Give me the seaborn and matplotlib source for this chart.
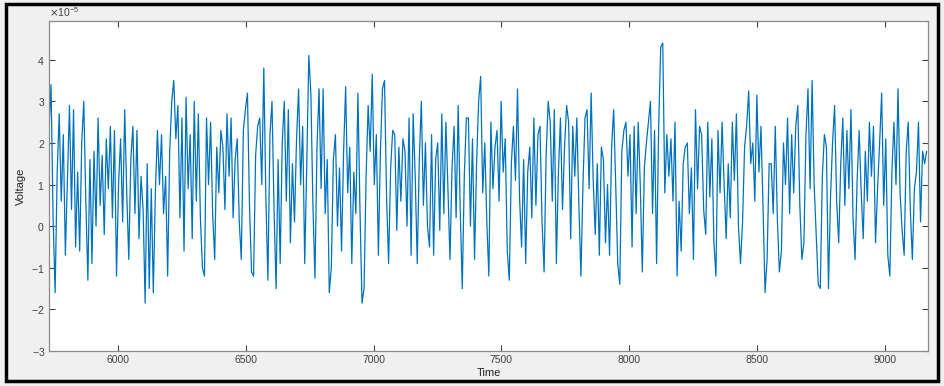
import numpy as np
import pandas as pd
import matplotlib
matplotlib.use("Agg")
import matplotlib.pyplot as plt
from matplotlib.patches import Rectangle
from matplotlib.ticker import ScalarFormatter
import seaborn as sns

# ---- data (voltage in units of 1e-5, sampled every 8 time units from t=5731) ----
t_start = 5731
t_step = 8
v_part1 = [2.3, 3.4, 0.2, -1.6, 1.3, 2.7, 0.6, 2.2, -0.7, 1.1, 2.9, 0.4, 2.8, -0.5, 1.3, -0.6, 2.0, 3.0, 0.6, -1.3,
           1.6, -0.9, 1.8, 0.0, 2.6, 0.5, 1.7, -0.2, 2.1, 0.9, 2.4, 0.2, 2.3, -1.2, 1.0, 2.1, 0.1, 2.8, 0.8, -0.8,
           1.6, 2.4, 0.3, 2.3, -0.3, 1.2, 0.4, -1.85, 1.5, -1.5, 0.9, -1.6, 0.8, 2.3, 1.0, 2.2, 0.3, 1.2, -1.2, 1.8,
           3.0, 3.5, 2.1, 2.9, 0.2, 2.6, -0.6, 3.1, 0.9, 2.2, -0.3, 3.0, 0.6, 2.7, 0.2, -1.0, -1.2, 2.6, 1.0, 2.5,
           0.3, -0.8, 1.9, 0.8, 2.3, 1.9]
v_part2 = [0.4, 2.7, 1.2, 2.6, 0.2, 1.6, 2.1, 0.1, -0.8, 2.3, 2.8, 3.2, 0.5, -1.1, -1.2, 1.7, 2.4, 2.6, 1.0, 3.8,
           0.7, -1.3, 2.2, 3.0, 0.4, -1.5, 1.6, -0.9, 2.0, 3.0, 0.6, 2.8, -0.4, 1.5, 0.1, 2.1, 3.3, 1.0, 2.4, -0.9,
           1.5, 4.1, 3.2, 0.5, -1.25, 1.9, 3.3, 0.9, 3.3, 0.3, 1.6, -1.6, -1.0, 1.6, 2.2, 0.0, 1.4, -0.6, 1.8, 3.35,
           0.8, 1.9, -0.9, 1.3, 0.3, 3.2, 0.4, -1.85, -1.5, 1.2, 2.9, 1.8, 3.65, 1.0, 2.2, -0.7, 1.8, 3.3, 3.5, 0.7,
           -0.9, 1.4, 2.3, 2.2, -0.1, 1.9]
v_part3 = [0.6, 2.1, 1.8, 0.0, 2.6, -0.7, 2.7, 1.2, -0.9, 1.6, 3.0, 0.5, 2.0, 0.0, -0.5, 2.2, -0.7, 1.6, 2.0, -0.1,
           2.7, 0.3, 2.5, 0.9, -0.8, 1.4, 2.4, 0.2, 2.9, 0.4, -1.5, 1.2, 2.6, 2.6, 0.0, 2.1, -0.8, 1.5, 3.0, 3.6,
           0.8, 2.0, 0.1, -1.2, 2.5, 0.9, 1.9, 2.3, 0.6, 3.0, 1.3, 2.1, -0.6, -1.3, 1.5, 2.4, 1.1, 3.3, 0.7, -0.5,
           1.6, -0.9, 1.3, 1.9, 0.2, 2.6, 0.5, 2.2, 2.4, 0.1, -1.1, 1.7, 3.0, 2.5, 0.6, 2.8, -0.9, 1.3, 2.6, 0.4,
           1.9, 2.9, 2.5, -0.3, 2.4, 1.2]
v_part4 = [2.6, 0.5, -1.2, 1.0, 2.6, 2.8, 0.9, 3.2, 1.1, -0.2, 1.5, -0.7, 1.9, 1.6, -0.4, 1.0, -0.7, 1.9, 2.8, 1.0,
           -0.9, -1.4, 1.8, 2.3, 2.5, 1.2, 2.2, -0.5, 2.4, 0.3, 2.5, 1.0, -1.1, 1.4, 2.0, 2.5, 3.0, 0.3, 2.3, -0.9,
           2.4, 4.3, 4.4, 0.8, 2.2, 1.2, 2.1, 0.6, 2.5, -1.2, 0.6, -0.6, 1.5, 1.9, 2.0, 0.3, 1.4, -0.8, 2.8, 0.9,
           2.4, 2.2, 0.4, -0.2, 2.5, 0.7, 2.1, -0.4, -1.2, 2.3, 0.8, 2.5, 1.0, -0.3, 1.5, 0.2, 2.5, 1.1, 2.7, 0.0,
           -0.9, 0.1, 1.9, 2.4, 3.25, 1.5]
v_part5 = [2.0, 0.6, 3.15, 1.3, 2.4, 0.5, -1.6, -0.8, 1.5, 1.5, 0.3, 2.4, 0.2, -1.1, -0.6, 2.0, 1.0, 2.6, 0.3, 2.2,
           0.8, 2.4, 2.9, 0.5, -0.8, -0.4, 2.2, 3.3, 0.9, 3.5, 1.0, -0.2, -1.4, -1.5, 1.2, 2.2, 1.9, -1.5, 0.7, 2.0,
           2.9, 0.6, -0.4, 1.5, 2.6, 0.5, 2.3, 0.9, 2.8, 0.2, -0.8, 1.1, 2.3, 0.8, -0.3, 1.8, 0.6, 2.5, 1.2, 2.4,
           -0.4, 0.9, 2.0, 3.2, 0.5, 2.1, -0.7, -1.2, 1.3, 2.5, 1.0, 3.3, 0.8, -0.1, -0.7, 1.8, 2.5, 0.4, -0.8, 0.9,
           1.3, 2.5, 0.1, 1.8, 1.5, 1.8]
x_ticks = [6000, 6500, 7000, 7500, 8000, 8500, 9000]
y_ticks = [-3, -2, -1, 0, 1, 2, 3, 4]

voltage_e5 = np.array(v_part1 + v_part2 + v_part3 + v_part4 + v_part5)
time = t_start + t_step * np.arange(len(voltage_e5))
df = pd.DataFrame({"Time": time, "Voltage": voltage_e5 * 1e-5})

sns.set_style("ticks")
plt.rcParams["font.family"] = ["Liberation Sans", "DejaVu Sans"]

fig = plt.figure(figsize=(9.44, 3.86), dpi=100)
fig.patch.set_facecolor("#f0f0f0")
fig.patches.append(Rectangle((0.006, 0.012), 0.988, 0.978, transform=fig.transFigure,
                             fill=False, edgecolor="black", linewidth=2.5, zorder=10))

ax = fig.add_axes([0.0519, 0.0907, 0.9311, 0.8549])
sns.lineplot(data=df, x="Time", y="Voltage", ax=ax, color="#0072BD", linewidth=0.9)

ax.set_xlim(5731, 9168)
ax.set_ylim(-3e-5, 4.93e-5)
ax.set_xticks(x_ticks)
ax.set_yticks([v * 1e-5 for v in y_ticks])
fmt = ScalarFormatter(useMathText=True)
fmt.set_powerlimits((0, 0))
ax.yaxis.set_major_formatter(fmt)
ax.yaxis.get_offset_text().set_fontsize(7.5)
ax.yaxis.get_offset_text().set_color("#404040")

ax.tick_params(direction="in", length=4, width=0.8, labelsize=7.5, colors="#404040",
               top=True, right=True, pad=3)
for s in ax.spines.values():
    s.set_color("#8a8a8a")
    s.set_linewidth(0.9)
    s.set_visible(True)
ax.set_facecolor("white")
ax.set_xlabel("Time", fontsize=8, color="#222222", labelpad=2)
ax.set_ylabel("Voltage", fontsize=8, color="#222222", labelpad=4)

fig.savefig("out.png", dpi=100, facecolor=fig.get_facecolor())
